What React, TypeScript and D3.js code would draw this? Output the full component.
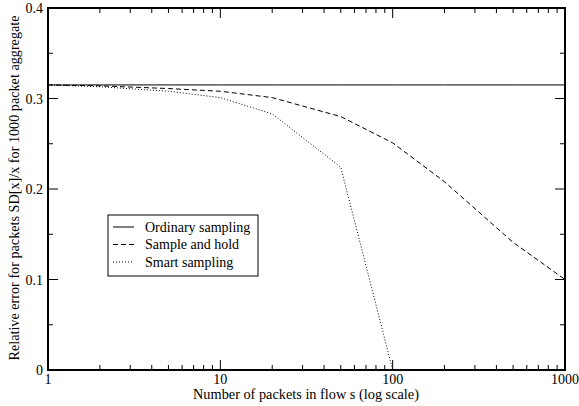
import * as d3 from 'd3'
import { useEffect, useRef } from 'react'

const flowSizes = [1, 2, 5, 10, 20, 50, 100, 200, 500, 1000]
const ordinary = [0.315, 0.315, 0.315, 0.315, 0.315, 0.315, 0.315, 0.315, 0.315, 0.315]
const sampleHold = [0.315, 0.314, 0.311, 0.308, 0.301, 0.28, 0.251, 0.208, 0.141, 0.1]
const smartSizes = [1, 2, 5, 10, 20, 50, 100]
const smart = [0.315, 0.313, 0.308, 0.301, 0.283, 0.224, 0]
const xTickLabels = ['1', '10', '100', '1000']
const yTickLabels = ['0', '0.1', '0.2', '0.3', '0.4']
const seriesNames = ['Ordinary sampling', 'Sample and hold', 'Smart sampling']

const App = () => {
    const svgRef = useRef<SVGSVGElement>(null)

    useEffect(() => {
        const w = 579
        const h = 406
        const m = { left: 48, top: 8, right: 14, bottom: 36 }
        const iw = w - m.left - m.right
        const ih = h - m.top - m.bottom
        const font = '"Liberation Serif", "Times New Roman", serif'

        const svg = d3.select(svgRef.current).attr('width', w).attr('height', h)
            .style('position', 'absolute').style('left', 0).style('top', 0)
        svg.selectAll('*').remove()
        svg.append('rect').attr('width', w).attr('height', h).attr('fill', '#fff')

        const x = d3.scaleLog().domain([1, 1000]).range([0, iw])
        const y = d3.scaleLinear().domain([0, 0.4]).range([ih, 0])
        const g = svg.append('g').attr('transform', `translate(${m.left},${m.top})`)

        // tick values
        const majorX = xTickLabels.map(Number)
        const minorX: number[] = []
        for (let d = 1; d < 1000; d *= 10) for (let k = 2; k < 10; k++) minorX.push(d * k)
        const majorY = yTickLabels.map(Number)
        const minorY = d3.range(0.05, 0.4, 0.1)

        const tick = (x1: number, y1: number, x2: number, y2: number) =>
            g.append('line').attr('x1', x1).attr('y1', y1).attr('x2', x2).attr('y2', y2)
                .attr('stroke', '#000').attr('stroke-width', 1)

        majorX.forEach(v => { tick(x(v), ih, x(v), ih - 10); tick(x(v), 0, x(v), 10) })
        minorX.forEach(v => { tick(x(v), ih, x(v), ih - 5); tick(x(v), 0, x(v), 5) })
        majorY.forEach(v => { tick(0, y(v), 10, y(v)); tick(iw, y(v), iw - 10, y(v)) })
        minorY.forEach(v => { tick(0, y(v), 5, y(v)); tick(iw, y(v), iw - 5, y(v)) })

        // lines
        const line = d3.line<[number, number]>().x(d => x(d[0])).y(d => y(d[1]))
        const series = [
            { data: flowSizes.map((s, i) => [s, ordinary[i]] as [number, number]), dash: null },
            { data: flowSizes.map((s, i) => [s, sampleHold[i]] as [number, number]), dash: '5,3' },
            { data: smartSizes.map((s, i) => [s, smart[i]] as [number, number]), dash: '1,2' }
        ]
        series.forEach(s => {
            g.append('path').attr('d', line(s.data)).attr('fill', 'none')
                .attr('stroke', '#000').attr('stroke-width', 1)
                .attr('stroke-dasharray', s.dash)
        })

        // frame
        g.append('rect').attr('width', iw).attr('height', ih).attr('fill', 'none')
            .attr('stroke', '#000').attr('stroke-width', 2)

        // tick labels
        majorX.forEach((v, i) => {
            g.append('text').attr('x', x(v)).attr('y', ih + 14).attr('text-anchor', 'middle')
                .style('font-family', font).style('font-size', '14px').text(xTickLabels[i])
        })
        majorY.forEach((v, i) => {
            g.append('text').attr('x', -5).attr('y', y(v) + 5).attr('text-anchor', 'end')
                .style('font-family', font).style('font-size', '14px').text(yTickLabels[i])
        })

        // axis titles
        svg.append('text').attr('x', 306).attr('y', h - 7).attr('text-anchor', 'middle')
            .style('font-family', font).style('font-size', '14.3px')
            .text('Number of packets in flow s (log scale)')
        svg.append('text').attr('transform', `translate(18.5,188) rotate(-90)`)
            .attr('text-anchor', 'middle').style('font-family', font).style('font-size', '14.2px')
            .text('Relative error for packets SD[x]/x for 1000 packet aggregate')

        // legend
        const lg = svg.append('g').attr('transform', 'translate(108,215)')
        lg.append('rect').attr('width', 150).attr('height', 61).attr('fill', '#fff')
            .attr('stroke', '#000').attr('stroke-width', 1)
        seriesNames.forEach((name, i) => {
            const ly = 12 + i * 17.5
            lg.append('line').attr('x1', 5).attr('x2', 26).attr('y1', ly).attr('y2', ly)
                .attr('stroke', '#000').attr('stroke-dasharray', series[i].dash)
            lg.append('text').attr('x', 37).attr('y', ly + 4.5)
                .style('font-family', font).style('font-size', '14px').text(name)
        })
    }, [])

    return (
        <div>
            <svg ref={svgRef}></svg>
        </div>
    )
}

export default App
